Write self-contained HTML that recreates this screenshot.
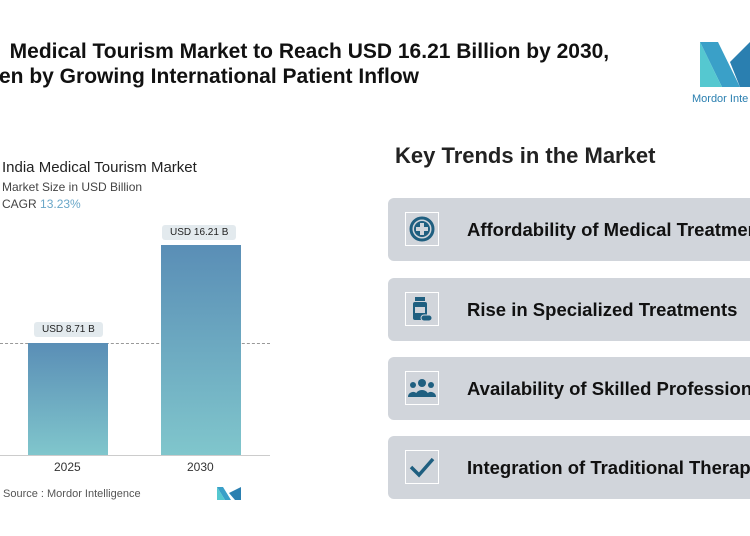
<!DOCTYPE html><html><head><style>
body{margin:0;width:750px;height:536px;overflow:hidden;background:#fff;font-family:"Liberation Sans",sans-serif;position:relative}
.a{position:absolute;white-space:nowrap}
.t{font-weight:bold;font-size:21px;color:#111}
.card{position:absolute;left:388px;width:380px;height:63px;background:#d1d5db;border-radius:6px}
.ic{position:absolute;left:17px;top:14px;width:34px;height:34px;border:1px solid #fff;box-sizing:border-box;display:flex;align-items:center;justify-content:center}
.ct{position:absolute;left:79px;top:21px;font-weight:bold;font-size:18.5px;color:#111;white-space:nowrap}
.bar{position:absolute;width:80px;background:linear-gradient(#5a8eb6,#80c6cc)}
.lab{position:absolute;background:#e3eaee;font-size:10px;color:#222;padding:2px 8px;border-radius:3px}
</style></head><body>
<div class="a t" style="left:-2px;top:40px">&nbsp;&nbsp;Medical Tourism Market to Reach USD 16.21 Billion by 2030,</div>
<div class="a t" style="left:-1px;top:65px">en by Growing International Patient Inflow</div>
<svg class="a" style="left:700px;top:42px" width="50" height="50"><polygon points="0,0 18,0 40,45 22,45" fill="#3aa0c8"/><polygon points="0,0 0,45 22,45" fill="#55c8d0"/><polygon points="30,20 50,0 50,45 40,45" fill="#2a7fb0"/></svg>
<div class="a" style="left:692px;top:93px;font-size:11px;color:#2a7fb0">Mordor Inte</div>
<div class="a" style="left:2px;top:159px;font-size:15px;color:#222">India Medical Tourism Market</div>
<div class="a" style="left:2px;top:180px;font-size:12px;color:#444">Market Size in USD Billion</div>
<div class="a" style="left:2px;top:197px;font-size:12px;color:#444">CAGR <span style="color:#6aa7c8">13.23%</span></div>
<div class="a" style="left:0;top:343px;width:270px;border-top:1px dashed #999"></div>
<div class="bar" style="left:28px;top:343px;height:112px"></div>
<div class="bar" style="left:161px;top:245px;height:210px"></div>
<div class="lab" style="left:34px;top:322px">USD 8.71 B</div>
<div class="lab" style="left:162px;top:225px">USD 16.21 B</div>
<div class="a" style="left:0;top:455px;width:270px;border-top:1px solid #ccc"></div>
<div class="a" style="left:54px;top:460px;font-size:12px;color:#333">2025</div>
<div class="a" style="left:187px;top:460px;font-size:12px;color:#333">2030</div>
<div class="a" style="left:3px;top:488px;font-size:11px;color:#555">Source : Mordor Intelligence</div>
<svg class="a" style="left:217px;top:487px" width="24" height="13"><polygon points="0,0 6,0 14,13 8,13" fill="#3aa0c8"/><polygon points="0,0 0,13 8,13" fill="#55c8d0"/><polygon points="12,6 24,0 24,13 18,13" fill="#2a7fb0"/></svg>
<div class="a" style="left:395px;top:143px;font-size:22px;font-weight:bold;color:#222">Key Trends in the Market</div>
<div class="card" style="top:198px"><div class="ic"><svg width="26" height="26"><circle cx="13" cy="13" r="11" fill="none" stroke="#1f5f80" stroke-width="3"/><circle cx="13" cy="13" r="8" fill="#1f5f80"/><rect x="11" y="7" width="4" height="12" fill="#d1d5db"/><rect x="7" y="11" width="12" height="4" fill="#d1d5db"/></svg></div><div class="ct">Affordability of Medical Treatment</div></div>
<div class="card" style="top:278px"><div class="ic"><svg width="22" height="26"><rect x="4" y="1" width="10" height="4" fill="#1f5f80"/><rect x="2" y="6" width="14" height="18" rx="2" fill="#1f5f80"/><rect x="4" y="11" width="10" height="6" fill="#d1d5db"/><rect x="10" y="19" width="11" height="6" rx="3" fill="#1f5f80" stroke="#d1d5db"/></svg></div><div class="ct">Rise in Specialized Treatments</div></div>
<div class="card" style="top:357px"><div class="ic"><svg width="28" height="22"><circle cx="14" cy="6" r="4" fill="#1f5f80"/><circle cx="5" cy="8" r="3" fill="#1f5f80"/><circle cx="23" cy="8" r="3" fill="#1f5f80"/><path d="M7 20a7 7 0 0 1 14 0z" fill="#1f5f80"/><path d="M0 20a5 5 0 0 1 9-3v3z M28 20a5 5 0 0 0-9-3v3z" fill="#1f5f80"/></svg></div><div class="ct">Availability of Skilled Professionals</div></div>
<div class="card" style="top:436px"><div class="ic"><svg width="26" height="22"><path d="M2 11l8 8L24 3" fill="none" stroke="#1f5f80" stroke-width="3.5"/></svg></div><div class="ct">Integration of Traditional Therapies</div></div>
</body></html>
